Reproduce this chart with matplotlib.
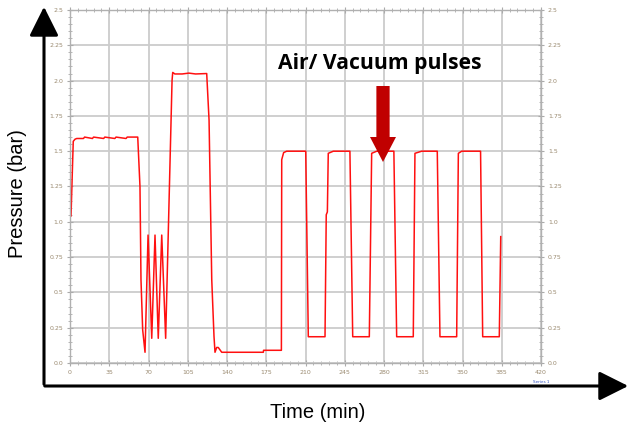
import numpy as np
import matplotlib
matplotlib.use('Agg')
import matplotlib.pyplot as plt
from matplotlib.patches import FancyArrowPatch, FancyArrow

# pressure trace (time in min, pressure in bar)
time_min = [0.0, 0.9, 2.9, 4.5, 6, 12, 13, 20, 21, 30, 31, 40, 41, 50, 51, 60.4,
            62.4, 63.3, 64.8, 66.9, 69.6, 72.9, 75.8, 78.7, 81.8, 85.3, 91.0, 91.6,
            93.5, 100, 106, 112, 121.9,
            124.0, 126.4, 128.4, 129.3, 130.8, 132.2, 135.3, 172.4, 172.6, 188.5,
            188.8, 190.5, 193.2, 209.6,
            210.2, 212.5, 227.4, 228.5, 229.5, 230.3, 234.8, 249.1,
            249.6, 252.1, 266.9, 269.0, 273.5, 288.3,
            288.8, 291.3, 306.1, 307.6, 313.6, 327.0,
            327.5, 329.9, 344.8, 346.3, 349.3, 365.6,
            366.1, 368.0, 382.8, 384.1]
pressure_bar = [1.04, 1.04, 1.57, 1.585, 1.59, 1.59, 1.60, 1.59, 1.60, 1.59, 1.60, 1.59, 1.60, 1.59, 1.60, 1.60,
                1.25, 0.59, 0.235, 0.076, 0.906, 0.175, 0.906, 0.175, 0.906, 0.175, 2.0, 2.058,
                2.047, 2.047, 2.053, 2.047, 2.05,
                1.72, 0.59, 0.19, 0.076, 0.11, 0.11, 0.076, 0.076, 0.09, 0.09,
                1.44, 1.49, 1.50, 1.50,
                1.50, 0.186, 0.186, 1.05, 1.07, 1.485, 1.50, 1.50,
                1.50, 0.186, 0.186, 1.485, 1.50, 1.50,
                1.50, 0.186, 0.186, 1.485, 1.50, 1.50,
                1.50, 0.186, 0.186, 1.485, 1.50, 1.50,
                1.50, 0.186, 0.186, 0.895]

x_ticks = list(range(0, 421, 35))
y_ticks = [0.0, 0.25, 0.5, 0.75, 1.0, 1.25, 1.5, 1.75, 2.0, 2.25, 2.5]
y_labels = ['0.0', '0.25', '0.5', '0.75', '1.0', '1.25', '1.5', '1.75', '2.0', '2.25', '2.5']

fig = plt.figure(figsize=(6.31, 4.29), dpi=100)
ax = fig.add_axes([70 / 631, 1 - 363 / 429, 471 / 631, 353 / 429])

ax.plot(time_min, pressure_bar, color='#ff1010', linewidth=1.1)

ax.set_xlim(0, 420)
ax.set_ylim(0, 2.5)
ax.set_xticks(x_ticks)
ax.set_xticklabels([str(t) for t in x_ticks])
ax.set_yticks(y_ticks)
ax.set_yticklabels(y_labels)
ax.set_xticks(np.arange(0, 421, 7), minor=True)
ax.set_yticks(np.arange(0, 2.51, 0.05), minor=True)
ax.grid(True, which='major', color='#cccccc', linewidth=1.3)
ax.tick_params(which='both', direction='inout', color='#aaaaaa', labelsize=4.5,
               labelcolor='#9a8a70', right=True, top=True, labelright=True, pad=3)
ax.tick_params(which='major', length=4)
ax.tick_params(which='minor', length=2.5)
for s in ax.spines.values():
    s.set_color('#b0b0b0')
    s.set_linewidth(1.0)
ax.text(420, -0.12, 'Series 1', fontsize=3, color='#3050c0', ha='center', va='top')

# outer black axis arrows
fig.patches.append(FancyArrowPatch((44 / 631, 1 - 387 / 429), (44 / 631, 1 - 4 / 429),
                                   transform=fig.transFigure, arrowstyle='-|>,head_length=0.9,head_width=0.45',
                                   mutation_scale=20, color='black', linewidth=2.2))
fig.patches.append(FancyArrowPatch((42 / 631, 1 - 386 / 429), (631 / 631, 1 - 386 / 429),
                                   transform=fig.transFigure, arrowstyle='-|>,head_length=0.9,head_width=0.45',
                                   mutation_scale=20, color='black', linewidth=2.2))

fig.text(18 / 631, 1 - 194 / 429, 'Pressure (bar)', rotation=90, ha='center', va='center',
         fontsize=14.5, family='Liberation Sans')
fig.text(318 / 631, 1 - 412 / 429, 'Time (min)', ha='center', va='center',
         fontsize=14.5, family='Liberation Sans')

# annotation
fig.text(380 / 631, 1 - 63 / 429, 'Air/ Vacuum pulses', ha='center', va='center',
         fontsize=15.2, fontweight='bold', family='Open Sans')
fig.patches.append(FancyArrow(383 / 631, 1 - 86 / 429, 0, -(76 / 429),
                              width=9 / 429, head_width=26 / 631, head_length=25 / 429,
                              length_includes_head=True, transform=fig.transFigure,
                              color='#c00000', linewidth=0))

fig.savefig('out.png', dpi=100)
